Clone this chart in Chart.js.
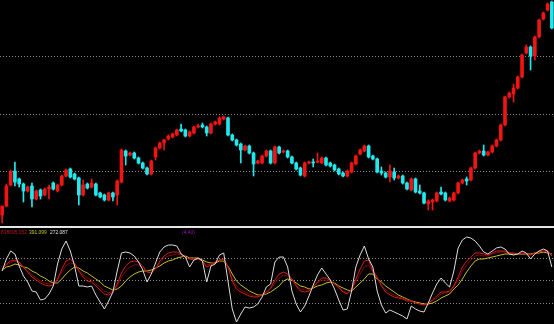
<!DOCTYPE html>
<html>
<head>
<meta charset="utf-8">
<script src="https://cdn.jsdelivr.net/npm/chart.js@4/dist/chart.umd.min.js"></script>
<style>
  html, body { margin: 0; padding: 0; background: #000; }
  #wrap { position: relative; width: 554px; height: 324px; background: #000; overflow: hidden; }
  #top { position: absolute; left: 0; top: 0; }
  #sep { position: absolute; left: 0; top: 226px; width: 554px; height: 2px; background: #e6e6e6; }
  #bottom { position: absolute; left: 0; top: 228px; }
  .lbl { position: absolute; top: 229px; font: 6px "Liberation Sans", sans-serif; white-space: nowrap;
         transform: scaleX(0.82); transform-origin: left top; }
</style>
</head>
<body>
<div id="wrap">
  <canvas id="top" width="554" height="226"></canvas>
  <div id="sep"></div>
  <canvas id="bottom" width="554" height="96"></canvas>
  <span class="lbl" style="left:1px;color:#b81818">838695.352</span>
  <span class="lbl" style="left:29px;color:#c8c828">391.099</span>
  <span class="lbl" style="left:50px;color:#e0e0e0">272.087</span>
  <span class="lbl" style="left:182px;color:#9a10b0">(4.40)</span>
</div>
<script>
// candles, price in screen units (bottom of panel ~ 0)
const open = [
  13,22,43,57,49,44,37,42,29,38,
  33,39,45,37,43,52,59,54,50,33,
  44,41,44,35,33,28,35,33,46,77,
  73,75,70,65,60,54,71,80,85,89,
  91,93,99,98,92,95,101,103,101,95,
  104,104,109,110,93,88,84,78,82,75,
  65,65,72,77,65,81,76,77,71,65,
  60,52,65,66,66,65,70,65,63,59,
  55,52,56,64,74,77,82,72,69,57,
  55,51,56,50,52,45,38,49,37,35,
  24,26,27,36,35,27,28,35,45,49,
  48,60,75,77,73,76,82,88,103,131,
  134,140,151,175,181,172,191,209,218,226
];
const high = [
  22,44,58,66,50,45,42,45,38,39,
  40,43,46,44,53,59,60,55,51,48,
  45,49,45,36,34,36,36,48,79,78,
  76,76,71,66,61,68,81,86,89,93,
  95,99,104,99,97,102,104,105,102,105,
  107,111,112,111,94,89,85,83,83,76,
  68,73,78,78,82,82,78,78,72,66,
  61,66,67,69,75,71,71,66,64,60,
  56,58,66,73,79,83,83,73,70,61,
  56,63,60,53,53,46,50,50,43,36,
  28,29,36,41,36,31,36,46,49,51,
  61,76,78,83,77,83,89,104,132,136,
  144,152,174,183,182,192,209,216,225,227
];
const low = [
  5,21,42,42,41,26,36,21,28,29,
  32,29,38,36,42,51,50,48,23,32,
  39,40,32,30,27,27,27,23,45,63,
  72,69,64,59,53,53,68,79,78,88,
  90,92,96,91,91,94,100,100,92,94,
  103,103,108,92,87,82,65,77,74,52,
  64,64,71,64,64,74,75,70,64,58,
  52,51,64,61,65,64,62,61,57,53,
  51,51,55,63,73,76,70,68,55,53,
  50,46,48,49,44,38,37,35,34,24,
  18,18,26,33,27,26,27,34,44,43,
  47,59,74,72,72,75,81,87,102,130,
  126,139,150,174,158,168,190,208,217,199
];
const close = [
  22,42,56,46,44,37,41,29,37,32,
  39,41,39,43,52,58,51,49,33,43,
  40,45,33,31,28,35,31,47,78,72,
  75,70,65,60,54,67,80,85,88,92,
  94,98,97,92,96,101,102,101,95,104,
  106,110,111,93,88,83,78,82,75,64,
  67,72,77,65,81,75,77,71,65,59,
  53,65,66,65,67,70,63,62,58,54,
  52,57,65,72,78,82,71,69,56,55,
  51,57,50,52,45,39,49,36,35,25,
  27,28,35,34,28,30,35,45,48,47,
  60,75,77,73,76,82,88,103,131,135,
  140,151,173,181,172,191,208,215,224,200
];

// oscillator lines (lower panel)
const kLine = [
  52,64,72,69,57,47,41,32,31,23,
  24,29,37,59,74,82,72,57,37,37,
  36,37,28,21,14,22,31,52,70,71,
  70,67,61,53,41,49,60,71,76,78,
  78,77,69,66,56,63,65,62,41,57,
  59,68,70,42,14,1,9,16,15,16,
  19,26,36,39,61,66,66,56,32,19,
  11,17,27,38,48,55,49,43,34,23,
  13,14,32,56,68,77,64,56,32,18,
  10,13,11,9,7,4,17,14,12,11,
  20,30,39,45,40,36,52,75,83,86,
  85,82,77,71,69,72,75,76,74,69,
  68,69,72,70,64,69,72,74,72,56
];
const dLine = [
  54,59,62,63,61,56,51,46,43,40,
  38,37,38,44,54,62,64,60,52,46,
  42,41,37,33,29,28,31,39,50,57,
  61,62,61,57,51,50,54,62,67,70,
  71,71,69,66,64,63,64,62,56,58,
  61,63,64,56,42,34,31,29,27,26,
  26,28,31,35,43,49,51,49,44,37,
  32,31,32,36,41,45,45,43,39,35,
  31,29,34,44,54,62,63,52,46,37,
  31,28,26,25,24,22,22,20,19,18,
  20,23,27,31,31,32,37,46,56,62,
  66,70,70,69,68,70,72,72,72,70,
  70,69,70,69,68,70,71,72,72,67
];
const d2Line = [
  54,58,60,62,60,56,52,48,45,42,
  40,39,39,43,51,58,60,59,53,48,
  45,43,39,36,32,30,32,37,46,52,
  56,58,58,55,51,51,54,60,65,67,
  68,69,68,66,64,64,64,62,58,59,
  61,63,63,56,44,37,33,31,29,27,
  27,28,30,34,40,45,48,47,44,38,
  34,33,33,36,40,43,43,42,39,36,
  32,30,33,41,49,56,58,51,45,38,
  33,30,28,26,25,23,22,20,19,18,
  20,22,25,29,30,31,36,43,52,58,
  63,67,68,67,67,69,70,71,71,70,
  70,69,70,69,68,70,71,72,71,68
];
const maLine = [
  53,56,57,59,58,56,55,52,50,47,
  45,42,40,40,44,49,53,56,55,52,
  50,47,44,41,37,35,33,34,37,42,
  46,49,51,52,52,53,55,57,60,62,
  63,65,66,67,65,65,65,63,61,60,
  60,62,62,57,49,42,38,35,32,30,
  28,28,29,31,34,37,42,44,43,40,
  37,36,34,35,37,38,40,41,40,37,
  35,33,32,36,40,44,49,49,44,41,
  37,34,31,28,26,24,22,21,20,19,
  19,20,22,25,27,29,34,38,44,51,
  57,62,64,64,65,66,67,68,69,69,
  69,69,69,69,69,70,70,71,70,69
];

const topGrid = [57, 114, 171];
const bottomGrid = [20, 42, 64];

const labels = open.map((_, i) => i + 1);
const UP = '#f01414';
const DOWN = '#22e8ee';
const colors = open.map((o, i) => close[i] >= o ? UP : DOWN);

function gridAxis(min, max, ticks) {
  return {
    min: min, max: max,
    ticks: { display: false },
    grid: { color: '#8c8c8c', lineWidth: 1, drawTicks: false },
    border: { display: false, dash: [1, 2] },
    afterBuildTicks: s => { s.ticks = ticks.map(v => ({ value: v })); }
  };
}

new Chart(document.getElementById('top'), {
  type: 'bar',
  data: {
    labels: labels,
    datasets: [
      {
        data: open.map((o, i) => [o, close[i]]),
        backgroundColor: colors,
        barThickness: 3,
        minBarLength: 1,
        grouped: false
      },
      {
        data: low.map((l, i) => [l, high[i]]),
        backgroundColor: colors,
        barThickness: 1,
        grouped: false
      }
    ]
  },
  options: {
    responsive: false,
    animation: false,
    layout: { padding: 0 },
    plugins: { legend: { display: false }, tooltip: { enabled: false } },
    scales: {
      x: { display: false },
      y: gridAxis(2, 228, topGrid)
    }
  }
});

function line(data, color) {
  return { data: data, borderColor: color, borderWidth: 1, pointRadius: 0, tension: 0, fill: false };
}

new Chart(document.getElementById('bottom'), {
  type: 'line',
  data: {
    labels: labels,
    datasets: [
      line(kLine, '#dcdcdc'),
      line(dLine, '#d81c1c'),
      line(d2Line, '#7c0a0a'),
      line(maLine, '#c8c02a')
    ]
  },
  options: {
    responsive: false,
    animation: false,
    layout: { padding: 0 },
    plugins: { legend: { display: false }, tooltip: { enabled: false } },
    scales: {
      x: { display: false, offset: true },
      y: gridAxis(-1, 95, bottomGrid)
    }
  }
});
</script>
</body>
</html>
